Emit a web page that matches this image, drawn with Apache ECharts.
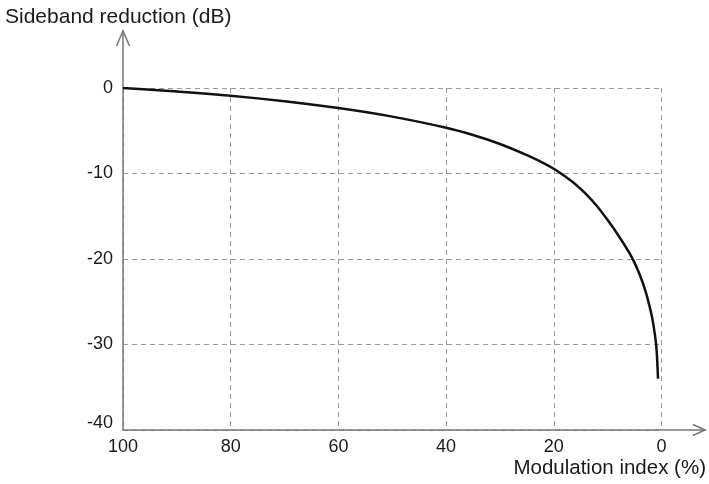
<!DOCTYPE html>
<html>
<head>
<meta charset="utf-8">
<script src="https://cdn.jsdelivr.net/npm/echarts@6/dist/echarts.min.js"></script>
<style>
  html, body { margin: 0; padding: 0; background: #ffffff; }
  #chart { width: 709px; height: 484px; }
</style>
</head>
<body>
<div id="chart"></div>
<script>
// Modulation index (%) and the resulting sideband reduction (dB)
const modulationIndex = [100, 90, 80, 70, 60, 50, 40, 35, 30, 25, 22, 20, 18, 16, 14, 12, 10, 8, 6, 5, 4, 3, 2, 1.5, 1, 0.8, 0.65];
const sidebandReduction = [0, -0.4, -0.9, -1.55, -2.35, -3.35, -4.65, -5.5, -6.55, -7.85, -8.75, -9.45, -10.3, -11.25, -12.4, -13.8, -15.45, -17.25, -19.25, -20.45, -21.9, -23.7, -26.1, -27.7, -30.0, -31.8, -34.0];

// Axis ranges and tick spacing
const xRange = [0, 100];
const xStep = 20;
const yRange = [-40, 0];
const yStep = 10;

const FONT = '"Liberation Sans", Arial, Helvetica, sans-serif';
const TEXT = '#1a1a1a';
const AXIS = '#777777';

const chart = echarts.init(document.getElementById('chart'), null, { renderer: 'canvas' });
const curve = modulationIndex.map((m, i) => [m, sidebandReduction[i]]);

chart.setOption({
  animation: false,
  backgroundColor: '#ffffff',
  title: [
    {
      text: 'Sideband reduction (dB)', left: 5, top: 7, padding: 0,
      textStyle: { fontFamily: FONT, fontSize: 21, fontWeight: 'normal', color: TEXT }
    },
    {
      text: 'Modulation index (%)', right: 3, top: 458, padding: 0,
      textStyle: { fontFamily: FONT, fontSize: 20.5, fontWeight: 'normal', color: TEXT }
    }
  ],
  grid: [
    // plotting area
    { left: 123, right: 47.5, top: 88, bottom: 54 },
    // longer axis lines carrying the arrowheads
    { left: 123, right: 4, top: 31, bottom: 54 }
  ],
  xAxis: [
    {
      gridIndex: 0, type: 'value', inverse: true,
      min: xRange[0], max: xRange[1], interval: xStep,
      axisLine: { show: false }, axisTick: { show: false },
      axisLabel: { margin: 8, fontFamily: FONT, fontSize: 18, color: TEXT },
      splitLine: { show: true, lineStyle: { type: [5, 4], color: '#9a9a9a', width: 1 } }
    },
    {
      gridIndex: 1, type: 'value', min: 0, max: 1,
      axisLine: { show: true, lineStyle: { color: AXIS, width: 1.5 } },
      axisTick: { show: false }, axisLabel: { show: false }, splitLine: { show: false }
    }
  ],
  yAxis: [
    {
      gridIndex: 0, type: 'value',
      min: yRange[0], max: yRange[1], interval: yStep,
      axisLine: { show: false }, axisTick: { show: false },
      axisLabel: {
        margin: 10, fontFamily: FONT, fontSize: 18, color: TEXT,
        formatter: v => (v === yRange[0] ? '{low|' + v + '}' : String(v)),
        rich: { low: { fontFamily: FONT, fontSize: 18, color: TEXT, padding: [0, 0, 14, 0] } }
      },
      splitLine: { show: true, lineStyle: { type: [5, 4], color: '#9a9a9a', width: 1 } }
    },
    {
      gridIndex: 1, type: 'value', min: 0, max: 1,
      axisLine: { show: true, lineStyle: { color: AXIS, width: 1.5 } },
      axisTick: { show: false }, axisLabel: { show: false }, splitLine: { show: false }
    }
  ],
  series: [
    {
      type: 'line', xAxisIndex: 0, yAxisIndex: 0,
      data: curve, smooth: 0.2, showSymbol: false,
      lineStyle: { color: '#111111', width: 2.5 }
    }
  ]
});

// Open chevron arrowheads at the far ends of both axis lines
const xEnd = chart.convertToPixel({ xAxisIndex: 1, yAxisIndex: 1 }, [1, 0]);
const yEnd = chart.convertToPixel({ xAxisIndex: 1, yAxisIndex: 1 }, [0, 1]);
const arrowStyle = { stroke: AXIS, lineWidth: 1.5, fill: null };
chart.setOption({
  graphic: [
    {
      type: 'polyline', silent: true,
      shape: { points: [[xEnd[0] - 12, xEnd[1] - 5.5], [xEnd[0], xEnd[1]], [xEnd[0] - 12, xEnd[1] + 5.5]] },
      style: arrowStyle
    },
    {
      type: 'polyline', silent: true,
      shape: { points: [[yEnd[0] - 6.5, yEnd[1] + 15], [yEnd[0], yEnd[1]], [yEnd[0] + 6.5, yEnd[1] + 15]] },
      style: arrowStyle
    }
  ]
});
</script>
</body>
</html>
